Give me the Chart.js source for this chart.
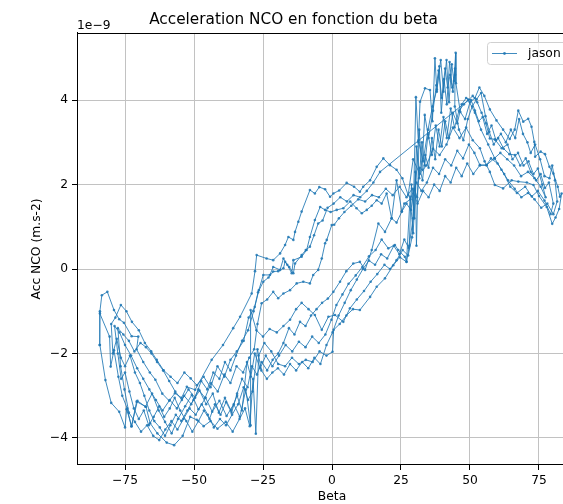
<!DOCTYPE html>
<html>
<head>
<meta charset="utf-8">
<script src="https://cdn.jsdelivr.net/npm/chart.js@4/dist/chart.umd.min.js"></script>
<style>
  html, body { margin: 0; padding: 0; background: #fff; overflow: hidden; }
  #wrap { position: absolute; left: 0; top: 0; width: 664px; height: 504px; }
</style>
</head>
<body>
<div id="wrap"><canvas id="c" width="664" height="504"></canvas></div>
<script>
// [beta (deg), NCO acceleration (x 1e-9 m.s-2)], one array per sweep, in time order
const sweep1Right = [[-84.1,-1.8],[-82.1,-2.63],[-80.0,-3.17],[-77.1,-3.38],[-75.0,-3.75],[-74.4,-3.32],[-72.6,-3.72],[-70.8,-3.14],[-67.4,-3.26],[-65.9,-3.65],[-63.3,-3.89],[-59.9,-4.11],[-57.2,-4.17],[-54.1,-3.95],[-51.4,-3.5],[-49.0,-3.57],[-46.5,-3.72],[-44.0,-3.6],[-41.5,-3.78],[-38.5,-3.62],[-36.0,-3.85],[-33.5,-3.55],[-31.5,-3.3],[-29.8,-3.72],[-28.6,-2.6],[-27.6,-3.9],[-26.6,-2.05],[-24.5,-1.75],[-22.0,-1.95],[-19.5,-2.25],[-17.0,-2.3],[-14.5,-2.1],[-12.0,-2.25],[-9.5,-2.15],[-7.0,-2.2],[-4.5,-1.95],[-2.0,-2.05],[0.2,-1.96],[0.6,-1.44],[2.8,-1.3],[5.2,-1.1],[7.6,-0.95],[10.1,-0.97],[13.8,-0.66],[16.2,-0.42],[19.2,-0.22],[22.2,0.09],[24.6,0.28],[27.0,0.17],[28.3,1.71],[29.4,0.85],[31.3,3.05],[33.0,2.55],[34.8,3.3],[36.4,3.85],[38.0,4.25],[39.4,4.95],[40.4,4.2],[41.5,4.95],[42.4,3.95],[43.4,4.85],[44.2,4.45],[44.8,5.12],[44.9,4.4],[46.5,3.72],[48.2,3.55],[50.0,3.95],[51.8,4.05],[53.4,4.3],[55.2,4.1],[57.2,3.78],[59.6,3.52],[62.0,3.3],[64.4,3.08],[66.2,3.3],[67.5,3.75],[69.3,3.49],[71.1,3.56],[72.3,3.37],[73.3,3.01],[73.6,2.66],[75.6,2.78],[77.2,2.72],[78.8,2.42],[80.2,2.26],[81.8,1.95],[82.6,1.71],[83.2,1.79],[82.3,1.42],[81.0,1.22],[79.8,1.07],[77.8,1.47],[75.0,1.73],[73.0,1.99],[70.6,2.05],[67.5,2.07],[65.1,2.1],[62.0,1.91],[59.0,1.99]];
const sweep1Left = [[57.2,2.3],[55.3,2.55],[53.6,2.86],[51.0,3.05],[48.6,3.35],[46.2,3.1],[43.8,3.35],[41.5,2.95],[39.0,2.7],[36.6,2.85],[34.2,2.45],[31.8,2.25],[29.4,2.6],[27.6,1.75],[25.5,2.15],[23.4,2.35],[21.0,2.46],[18.6,2.62],[16.2,2.42],[13.8,2.1],[11.3,1.95],[10.1,1.83],[8.0,1.95],[5.3,2.04],[2.6,1.86],[0.5,1.79],[-0.7,1.71],[-2.5,1.89],[-4.6,1.94],[-6.2,1.79],[-8.0,1.87],[-11.0,1.36],[-12.2,1.12],[-13.4,0.88],[-14.0,0.69],[-15.8,0.76],[-17.0,0.57],[-18.8,0.37],[-21.3,0.21],[-23.7,0.25],[-27.3,0.33],[-27.9,-0.05],[-29.1,-0.58],[-33.3,-1.13],[-35.8,-1.4],[-39.5,-1.8],[-43.6,-2.15],[-49.6,-2.86],[-52.6,-2.79],[-54.5,-3.05],[-56.9,-2.94],[-59.0,-3.12],[-61.5,-2.95],[-64.0,-2.62],[-66.0,-2.45],[-68.4,-2.2],[-70.8,-1.9],[-70.2,-1.6],[-72.6,-1.59],[-75.4,-1.27],[-77.1,-1.19],[-79.0,-0.97],[-81.4,-0.54],[-83.4,-0.62],[-84.1,-1.0],[-84.2,-1.8],[-84.1,-1.05]];
const sweep2Right = [[-80.6,-1.6],[-80.2,-2.31],[-79.0,-1.92],[-77.4,-2.55],[-76.0,-3.0],[-74.2,-3.3],[-72.7,-3.73],[-70.5,-3.12],[-67.6,-3.26],[-65.2,-2.95],[-62.8,-3.35],[-60.5,-3.62],[-58.1,-3.89],[-55.8,-3.55],[-53.2,-3.25],[-50.8,-2.98],[-48.4,-3.32],[-45.8,-3.05],[-43.4,-3.38],[-40.8,-3.12],[-38.2,-3.48],[-35.6,-3.2],[-33.4,-3.5],[-31.2,-2.85],[-29.5,-3.7],[-29.5,-0.97],[-27.4,-1.45],[-25.0,-1.6],[-22.6,-1.42],[-20.0,-1.5],[-17.6,-1.35],[-15.2,-1.2],[-13.0,-0.95],[-11.0,-0.8],[-8.5,-0.95],[-6.2,-1.09],[-3.7,-1.44],[-1.3,-1.13],[1.1,-1.09],[4.1,-1.25],[6.5,-0.93],[9.0,-0.72],[11.6,-0.52],[14.0,-0.3],[16.4,-0.12],[19.0,0.1],[21.0,0.0],[23.4,0.21],[25.6,0.45],[27.6,0.32],[29.0,0.75],[30.2,2.3],[30.6,0.55],[31.6,3.3],[32.6,2.35],[33.6,3.65],[35.0,3.1],[36.6,3.75],[37.8,4.35],[38.6,4.7],[39.8,4.05],[41.0,4.75],[41.9,4.3],[42.8,4.6],[43.8,4.2],[44.6,4.75],[44.5,3.85],[46.0,3.3],[47.6,3.05],[49.2,3.55],[50.8,3.85],[52.4,4.02],[54.0,4.17],[55.6,3.62],[57.0,3.25],[58.6,2.95],[60.2,3.1],[62.2,2.85],[64.3,2.72],[66.3,2.7],[68.2,2.45],[70.2,2.62],[72.0,2.3],[74.0,2.1],[75.6,2.25],[77.2,1.92],[78.6,2.05],[80.2,1.55],[79.2,1.3],[77.0,1.62],[74.6,1.85],[72.4,1.72],[70.0,1.95],[67.0,1.8],[64.6,1.95],[62.4,2.25],[60.0,2.5],[57.6,2.62],[56.0,2.46],[53.6,2.46]];
const sweep2Left = [[51.6,2.75],[49.6,2.95],[47.5,2.62],[45.4,2.8],[43.2,2.45],[41.0,2.6],[38.8,2.25],[36.6,2.4],[34.4,2.05],[32.4,1.85],[30.6,2.05],[28.4,1.65],[26.2,1.55],[25.3,1.36],[23.4,2.1],[21.6,1.2],[19.8,1.79],[18.0,1.55],[16.2,1.63],[14.4,1.5],[12.6,1.4],[10.8,1.32],[8.9,1.44],[6.6,1.6],[4.1,1.44],[1.7,1.4],[-0.5,1.35],[-2.5,1.4],[-4.3,1.47],[-6.2,1.16],[-8.0,0.76],[-9.2,0.45],[-11.0,0.29],[-14.0,0.21],[-14.6,-0.1],[-16.2,0.1],[-17.6,0.25],[-18.8,-0.02],[-21.3,0.05],[-22.5,-0.14],[-24.9,-0.14],[-26.5,-0.5],[-28.0,-0.9],[-30.2,-1.15],[-32.0,-1.7],[-34.5,-1.95],[-36.8,-2.15],[-39.0,-2.55],[-41.5,-2.3],[-44.0,-2.8],[-46.5,-2.55],[-49.0,-2.75],[-51.2,-2.59],[-53.5,-2.45],[-56.0,-2.7],[-58.5,-2.55],[-61.0,-2.4],[-63.5,-2.15],[-65.5,-1.95],[-67.8,-1.75],[-70.0,-1.45],[-72.5,-1.25],[-74.5,-1.0],[-76.5,-0.85],[-78.5,-1.15]];
const sweep3Right = [[-80.0,-1.3],[-79.4,-2.0],[-78.0,-1.65],[-76.5,-2.1],[-75.0,-2.3],[-73.2,-2.05],[-71.4,-2.45],[-69.6,-2.7],[-68.0,-3.0],[-66.2,-3.35],[-64.4,-3.6],[-62.4,-3.75],[-60.5,-3.95],[-58.6,-3.7],[-56.6,-3.45],[-54.6,-3.6],[-52.4,-3.35],[-50.2,-3.1],[-48.0,-2.88],[-45.6,-3.2],[-43.2,-2.95],[-41.0,-3.4],[-38.8,-3.05],[-36.6,-3.35],[-34.4,-3.0],[-32.6,-3.35],[-30.8,-2.2],[-29.4,-2.55],[-28.0,-2.0],[-26.0,-2.35],[-24.0,-2.05],[-21.6,-2.3],[-19.2,-2.05],[-16.8,-1.8],[-14.4,-1.95],[-12.0,-1.72],[-9.6,-1.85],[-7.2,-1.6],[-4.8,-1.75],[-2.4,-1.55],[-0.2,-1.2],[1.6,-0.85],[3.8,-0.6],[6.0,-0.35],[8.6,-0.15],[11.0,0.05],[13.4,0.3],[15.8,0.45],[18.0,0.7],[20.4,0.49],[22.8,0.57],[24.0,0.45],[26.4,0.29],[27.0,0.17],[28.0,0.55],[28.8,2.0],[29.8,1.2],[30.6,2.9],[31.6,2.15],[32.6,3.0],[33.6,2.45],[34.8,3.2],[36.2,2.7],[37.6,3.4],[39.0,2.9],[40.4,3.6],[41.6,3.1],[43.0,3.8],[44.4,3.35],[46.0,3.75],[47.8,3.9],[49.4,4.0],[51.0,4.1],[52.6,3.95],[54.2,3.7],[55.8,3.45],[57.2,3.09],[59.0,3.07],[61.5,2.86],[63.6,2.95],[65.4,2.6],[67.4,2.75],[69.4,2.45],[71.2,2.55],[73.0,2.25],[74.6,2.38],[76.2,2.0],[77.4,1.7]];
const sweep3Left = [[75.6,1.95],[73.4,2.15],[71.0,2.3],[68.5,2.2],[66.0,2.45],[63.5,2.6],[61.0,2.75],[58.8,2.62],[56.0,2.46],[53.6,2.46],[51.2,2.25],[49.0,2.5],[47.0,2.2],[45.0,2.4],[43.0,2.05],[41.0,2.2],[39.0,1.85],[37.0,2.0],[35.0,1.7],[33.0,1.85],[31.0,1.55],[29.0,1.9],[27.0,1.7],[24.5,1.95],[22.0,1.75],[19.5,1.9],[17.0,1.7],[14.5,1.75],[12.0,1.6],[9.5,1.65],[7.0,1.5],[4.5,1.35],[2.5,1.2],[0.8,1.05],[-0.1,1.04],[-1.9,0.69],[-2.5,0.61],[-3.7,0.25],[-5.0,-0.02],[-6.8,-0.14],[-8.0,-0.34],[-10.4,-0.3],[-12.8,-0.34],[-15.2,-0.5],[-17.6,-0.58],[-19.5,-0.69],[-21.3,-0.54],[-23.5,-0.72],[-25.5,-0.81],[-27.0,-1.3],[-28.2,-1.9],[-30.0,-2.1],[-32.2,-2.45],[-34.6,-2.3],[-36.8,-2.7],[-39.0,-2.5],[-41.4,-2.9],[-43.8,-2.7],[-46.0,-3.05],[-48.4,-2.85],[-51.0,-3.2],[-53.6,-3.0],[-56.2,-3.3],[-58.8,-3.1],[-61.4,-3.35],[-63.8,-3.1],[-66.2,-2.85],[-68.4,-2.6],[-70.6,-2.35],[-72.8,-2.05],[-75.0,-1.8],[-77.0,-1.5],[-78.8,-1.35]];
const sweep4Right = [[-77.6,-2.0],[-76.4,-2.6],[-75.0,-2.45],[-73.4,-2.9],[-71.8,-3.3],[-70.0,-3.55],[-68.2,-3.35],[-66.4,-3.7],[-64.6,-3.5],[-62.6,-3.25],[-60.8,-3.5],[-58.8,-3.3],[-57.0,-3.05],[-55.0,-3.35],[-52.8,-3.6],[-50.6,-3.85],[-48.4,-3.6],[-46.4,-3.35],[-44.4,-3.55],[-42.4,-3.2],[-40.4,-3.45],[-38.4,-3.15],[-36.4,-3.4],[-34.4,-2.95],[-32.6,-2.6],[-30.6,-2.8],[-29.0,-2.3],[-27.2,-2.5],[-25.5,-2.2],[-23.5,-2.4],[-21.5,-2.15],[-19.5,-2.0],[-17.6,-1.75],[-15.6,-1.4],[-13.6,-1.55],[-11.6,-1.25],[-9.6,-1.35],[-7.6,-1.1],[-5.6,-0.95],[-3.6,-0.8],[-1.5,-0.7],[0.5,-0.54],[2.9,-0.3],[5.2,-0.05],[7.7,0.13],[10.1,0.17],[12.0,-0.02],[14.4,0.45],[16.8,1.08],[19.2,0.88],[21.6,1.2],[23.4,1.1],[25.3,1.36],[27.0,1.55],[28.6,1.4],[29.8,1.9],[30.8,1.7],[31.8,2.4],[32.8,2.1],[33.8,2.7],[35.0,2.4],[36.2,3.1],[37.4,2.6],[38.6,3.3],[39.8,2.9],[41.0,3.5],[42.4,3.1],[43.8,3.7],[45.4,3.45],[47.0,3.9],[48.6,4.05],[50.4,4.0],[51.8,3.75],[53.2,3.5],[54.6,3.6],[56.2,3.2],[57.8,3.4],[59.4,3.05],[61.2,3.2],[63.0,3.0],[64.8,3.3],[66.4,3.1],[67.8,3.55],[69.2,3.2],[70.8,3.0],[72.0,2.75],[73.6,2.95],[75.4,2.6],[77.0,2.2],[78.8,2.15],[79.8,2.45],[80.8,2.1],[81.6,1.6],[80.2,1.3]];
const sweep4Left = [[78.0,1.55],[75.8,1.45],[73.4,1.65],[71.0,1.8],[68.6,1.7],[66.2,1.9],[63.8,2.1],[61.4,2.35],[59.0,2.62],[56.6,2.95],[54.0,3.3],[51.8,3.7],[49.4,4.0],[17.4,2.3],[15.0,2.05],[12.6,1.85],[10.2,1.7],[7.8,1.75],[5.4,1.6],[3.0,1.7],[0.6,1.55],[-1.6,1.45],[-3.4,1.15],[-5.0,1.08],[-6.5,0.8],[-8.0,0.53],[-9.5,0.45],[-11.0,0.33],[-13.4,0.13],[-14.0,-0.1],[-15.5,0.05],[-17.0,0.17],[-17.6,0.02],[-19.5,-0.05],[-21.3,-0.06],[-23.0,-0.2],[-24.9,-0.3],[-26.8,-0.55],[-28.4,-1.0],[-30.4,-1.45],[-32.6,-1.7],[-34.8,-2.05],[-36.8,-2.4],[-38.8,-2.2],[-40.8,-2.6],[-43.0,-2.45],[-45.2,-2.85],[-47.4,-2.65],[-49.6,-3.05],[-52.0,-2.85],[-54.4,-3.1],[-56.8,-2.9],[-59.0,-2.65],[-61.2,-2.4],[-63.4,-2.2],[-65.4,-2.0],[-67.4,-1.85],[-69.4,-1.75],[-71.6,-1.95],[-73.6,-1.7],[-75.6,-1.55],[-77.6,-1.4]];
const sweep5Right = [[-76.6,-2.3],[-75.2,-2.85],[-73.6,-3.4],[-71.4,-3.62],[-69.2,-3.85],[-67.0,-3.7],[-64.8,-3.95],[-62.6,-4.05],[-60.4,-3.8],[-58.2,-3.6],[-56.0,-3.8],[-53.8,-3.55],[-51.6,-3.3],[-49.4,-3.45],[-47.2,-3.2],[-45.0,-3.45],[-42.8,-3.75],[-40.6,-3.55],[-38.4,-3.7],[-36.2,-3.45],[-34.0,-3.2],[-32.0,-2.8],[-30.4,-3.1],[-28.8,-2.9],[-27.0,-1.9],[-25.6,-2.4],[-23.6,-2.6],[-21.6,-2.45],[-19.6,-2.35],[-17.4,-2.5],[-15.2,-2.25],[-13.0,-2.4],[-10.8,-2.2],[-8.6,-2.35],[-6.4,-2.1],[-4.2,-2.25],[-2.0,-1.8],[0.2,-1.5],[2.4,-1.1],[4.6,-0.8],[6.8,-0.5],[9.0,-0.25],[11.2,0.0],[13.4,0.2],[15.6,0.1],[17.8,0.35],[20.0,0.25],[22.4,0.55],[24.4,0.35],[26.2,0.7],[27.8,0.5],[29.4,1.2],[30.4,4.07],[31.3,3.0],[31.9,3.96],[33.7,4.28],[35.5,4.24],[36.4,3.5],[37.3,4.99],[38.0,4.2],[38.9,4.8],[39.6,3.7],[40.6,4.5],[41.6,3.9],[42.6,4.9],[43.6,4.3],[44.6,4.6]];

const sweeps = [sweep1Right, sweep1Left, sweep2Right, sweep2Left, sweep3Right, sweep3Left, sweep4Right, sweep4Left, sweep5Right];

const seriesLabel = 'jason';
const chartTitle = 'Acceleration NCO en fonction du beta';
const xAxisTitle = 'Beta';
const yAxisTitle = 'Acc NCO (m.s-2)';
const xTickValues = [-75, -50, -25, 0, 25, 50, 75];
const yTickValues = [-4, -2, 0, 2, 4];
const yOffsetText = '1e\u22129';

const points = [].concat(...sweeps).map(([b, a]) => ({ x: b, y: a }));

const BLUE = 'rgba(31,119,180,0.85)';
const FONT = 'DejaVu Sans';
const minus = v => String(v).replace('-', '\u2212');

// top/right spines, the offset exponent and the legend box
const decorations = {
  id: 'decorations',
  afterDraw(chart) {
    const { ctx, chartArea: a } = chart;
    ctx.save();
    ctx.strokeStyle = '#000';
    ctx.lineWidth = 1;
    ctx.beginPath();
    ctx.moveTo(a.left, Math.round(a.top) + 0.5);
    ctx.lineTo(a.right, Math.round(a.top) + 0.5);
    ctx.moveTo(Math.round(a.right) + 0.5, a.top);
    ctx.lineTo(Math.round(a.right) + 0.5, a.bottom);
    ctx.stroke();

    ctx.fillStyle = '#000';
    ctx.font = '12.3px "' + FONT + '"';
    ctx.textAlign = 'left';
    ctx.textBaseline = 'alphabetic';
    ctx.fillText(yOffsetText, a.left, a.top - 4);

    // legend
    const bx = 487, by = 42, bw = 94, bh = 22, r = 3;
    ctx.beginPath();
    ctx.roundRect(bx + 0.5, by + 0.5, bw, bh, r);
    ctx.fillStyle = 'rgba(255,255,255,0.8)';
    ctx.fill();
    ctx.strokeStyle = '#d0d0d0';
    ctx.stroke();
    const ly = by + bh / 2 + 0.5;
    ctx.strokeStyle = BLUE;
    ctx.beginPath();
    ctx.moveTo(492, ly);
    ctx.lineTo(517, ly);
    ctx.stroke();
    ctx.fillStyle = BLUE;
    ctx.beginPath();
    ctx.arc(504.5, ly, 1.4, 0, Math.PI * 2);
    ctx.fill();
    ctx.fillStyle = '#000';
    ctx.textBaseline = 'middle';
    ctx.fillText(chart.data.datasets[0].label, 528, ly);
    ctx.restore();
  }
};

new Chart(document.getElementById('c'), {
  type: 'scatter',
  data: {
    datasets: [{
      label: seriesLabel,
      data: points,
      showLine: true,
      borderColor: BLUE,
      borderWidth: 1,
      backgroundColor: BLUE,
      pointRadius: 1.3,
      pointBorderWidth: 0,
      pointHoverRadius: 1.3,
      tension: 0
    }]
  },
  options: {
    responsive: false,
    devicePixelRatio: 1,
    animation: false,
    events: [],
    layout: { padding: { left: 0, right: 77, top: 0, bottom: 0 } },
    plugins: {
      legend: { display: false },
      tooltip: { enabled: false },
      title: {
        display: true,
        text: chartTitle,
        color: '#000',
        font: { family: FONT, size: 15.3, weight: 'normal' },
        padding: { top: 11, bottom: 3.6 }
      }
    },
    scales: {
      x: {
        type: 'linear',
        min: -92.4,
        max: 92.4,
        afterBuildTicks: s => { s.ticks = xTickValues.map(v => ({ value: v })); },
        afterFit: s => { s.height = 39; },
        ticks: {
          color: '#000',
          font: { family: FONT, size: 12.3 },
          padding: 3,
          maxRotation: 0,
          autoSkip: false,
          callback: v => minus(v)
        },
        grid: { color: '#c2c2c2', lineWidth: 1, tickColor: '#000', tickLength: 5 },
        border: { color: '#000', width: 1 },
        title: {
          display: true,
          text: xAxisTitle,
          color: '#000',
          font: { family: FONT, size: 12.3 },
          padding: { top: 0, bottom: 0 }
        }
      },
      y: {
        type: 'linear',
        min: -4.64,
        max: 5.59,
        afterBuildTicks: s => { s.ticks = yTickValues.map(v => ({ value: v })); },
        afterFit: s => { s.width = 77; },
        ticks: {
          color: '#000',
          font: { family: FONT, size: 12.3 },
          padding: 4,
          autoSkip: false,
          callback: v => minus(v)
        },
        grid: { color: '#c2c2c2', lineWidth: 1, tickColor: '#000', tickLength: 5 },
        border: { color: '#000', width: 1 },
        title: {
          display: true,
          text: yAxisTitle,
          color: '#000',
          font: { family: FONT, size: 12.3 },
          padding: { top: 29.6, bottom: 0 }
        }
      }
    }
  },
  plugins: [decorations]
});
</script>
</body>
</html>
